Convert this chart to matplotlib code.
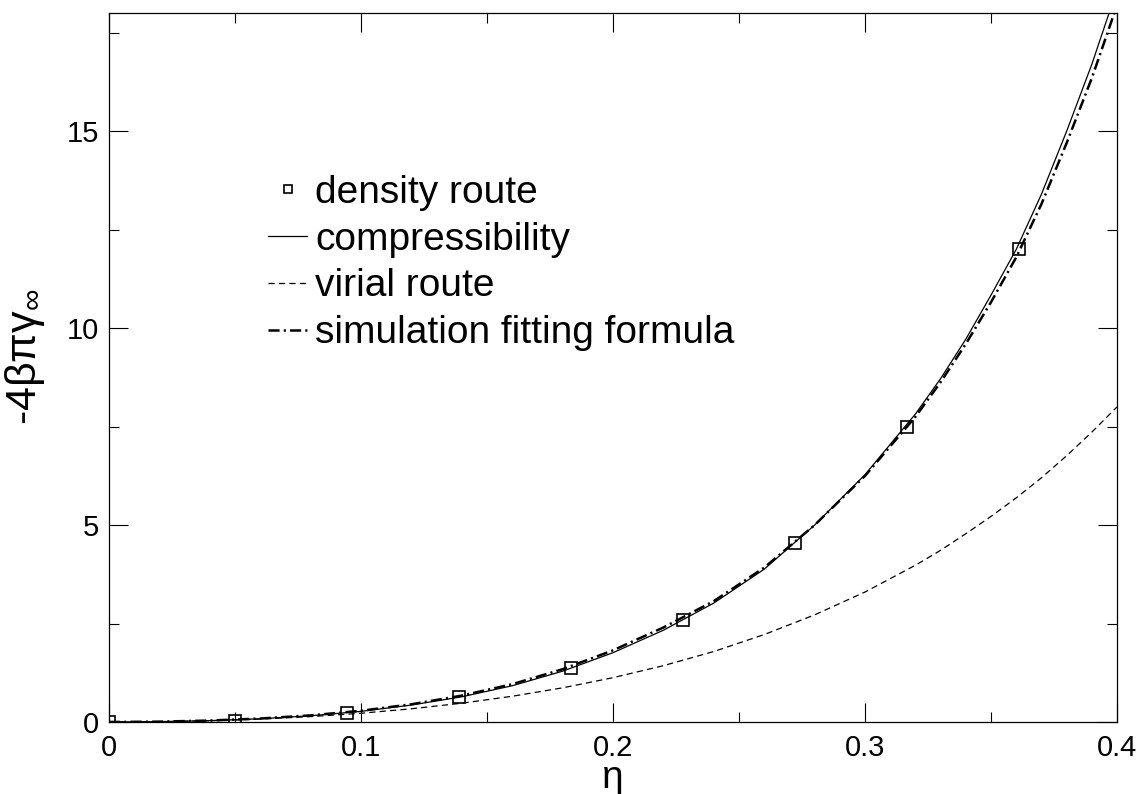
import matplotlib
matplotlib.use('Agg')
import matplotlib.pyplot as plt
from matplotlib.ticker import MultipleLocator, FixedLocator, FixedFormatter

plt.rcParams['font.family'] = ['Liberation Sans', 'DejaVu Sans']
plt.rcParams['mathtext.fontset'] = 'custom'
plt.rcParams['mathtext.rm'] = 'Liberation Sans'
plt.rcParams['mathtext.it'] = 'Liberation Sans'
plt.rcParams['lines.scale_dashes'] = False

# density route (squares)
eta_pts = [0.0, 0.05, 0.0944, 0.1389, 0.1833, 0.2278, 0.2722, 0.3167, 0.3611]
dens_pts = [0.0, 0.03, 0.23, 0.63, 1.36, 2.6, 4.55, 7.5, 12.0]

# curves
eta = [0.0, 0.02, 0.04, 0.06, 0.08, 0.10, 0.12, 0.14, 0.16, 0.18, 0.20,
       0.22, 0.24, 0.26, 0.28, 0.30, 0.32, 0.33, 0.34, 0.35, 0.36, 0.37,
       0.38, 0.39, 0.40]
compress = [0.0, 0.008, 0.034, 0.082, 0.158, 0.27, 0.43, 0.64, 0.92, 1.29, 1.76,
            2.33, 3.02, 3.88, 5.0, 6.28, 7.82, 8.72, 9.72, 10.84, 12.0, 13.4,
            15.0, 16.7, 18.6]
virial = [0.0, 0.0075, 0.031, 0.073, 0.136, 0.222, 0.335, 0.477, 0.653, 0.867, 1.125,
          1.43, 1.79, 2.22, 2.72, 3.3, 3.98, 4.36, 4.78, 5.22, 5.69, 6.2,
          6.76, 7.36, 8.0]
simfit = [0.0, 0.009, 0.037, 0.088, 0.168, 0.285, 0.45, 0.67, 0.96, 1.34, 1.82,
          2.40, 3.07, 3.92, 5.0, 6.25, 7.75, 8.63, 9.6, 10.66, 11.8, 13.15,
          14.7, 16.35, 18.2]

fig = plt.figure(figsize=(11.43, 7.94), dpi=100)
ax = fig.add_axes([0.0954, 0.0907, 0.8819, 0.8929])

ax.plot(eta_pts, dens_pts, ls='none', marker='s', ms=8.5, mfc='none', mec='black',
        mew=1.2, label='density route', zorder=4)
ax.plot(eta, compress, color='black', lw=0.9, label='compressibility')
ax.plot(eta, virial, color='black', lw=0.9, dashes=(4.5, 3), label='virial route')
ax.plot(eta, simfit, color='black', lw=1.8, dashes=(8, 3, 1.5, 3),
        label='simulation fitting formula')

ax.set_xlim(0, 0.4)
ax.set_ylim(0, 18)
ax.xaxis.set_major_locator(FixedLocator([0, 0.1, 0.2, 0.3, 0.4]))
ax.xaxis.set_major_formatter(FixedFormatter(['0', '0.1', '0.2', '0.3', '0.4']))
ax.xaxis.set_minor_locator(MultipleLocator(0.05))
ax.yaxis.set_major_locator(MultipleLocator(5))
ax.yaxis.set_minor_locator(MultipleLocator(2.5))
ax.tick_params(which='both', direction='in', top=True, right=True, width=0.8,
               labelsize=21)
ax.tick_params(which='major', length=14)
ax.tick_params(which='minor', length=7)
ax.tick_params(axis='x', pad=9)
ax.tick_params(axis='y', pad=7)
for s in ax.spines.values():
    s.set_linewidth(0.9)

ax.set_xlabel('η', fontsize=28, labelpad=-2)
ax.set_ylabel(r'-4βπγ$_\infty$', fontsize=31)
ax.yaxis.set_label_coords(-0.062, 0.515)

leg = ax.legend(loc='upper left', bbox_to_anchor=(0.158, 0.772), frameon=False,
                fontsize=28, handlelength=1.0, handletextpad=0.2,
                labelspacing=0.28, borderpad=0, borderaxespad=0, markerscale=0.65)

fig.savefig('out.png', dpi=100)
